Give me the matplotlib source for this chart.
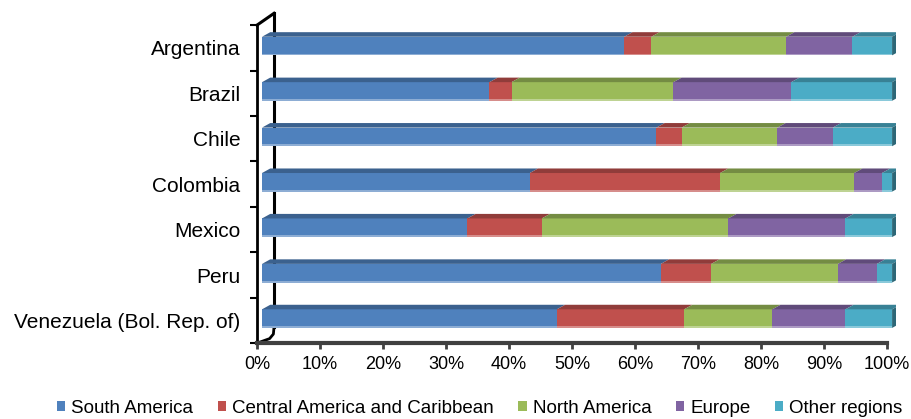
import matplotlib
matplotlib.use("Agg")
import matplotlib.pyplot as plt
from matplotlib.patches import Polygon, Patch
from matplotlib.colors import to_rgb
import numpy as np

plt.rcParams['font.family'] = ['Liberation Sans', 'DejaVu Sans']

# shares of exports by destination (%)
countries = ["Argentina", "Brazil", "Chile", "Colombia", "Mexico", "Peru",
             "Venezuela (Bol. Rep. of)"]
regions = ["South America", "Central America and Caribbean", "North America",
           "Europe", "Other regions"]
south_america = [57.5, 36.1, 62.6, 42.5, 32.6, 63.3, 46.8]
central_america = [4.3, 3.5, 4.0, 30.2, 11.8, 8.0, 20.2]
north_america = [21.4, 25.7, 15.2, 21.3, 29.6, 20.1, 14.0]
europe = [10.5, 18.7, 8.8, 4.4, 18.6, 6.2, 11.6]
other_regions = [6.3, 16.0, 9.4, 1.6, 7.4, 2.4, 7.4]
colors = ["#4F81BD", "#C0504D", "#9BBB59", "#8064A2", "#4BACC6"]
xticks = [0, 10, 20, 30, 40, 50, 60, 70, 80, 90, 100]


def shade(c, f):
    r, g, b = to_rgb(c)
    return (r * f, g * f, b * f)


def tint(c, f):
    r, g, b = to_rgb(c)
    return (r + (1 - r) * f, g + (1 - g) * f, b + (1 - b) * f)


fig = plt.figure(figsize=(9.12, 4.19), dpi=100)
ax = fig.add_axes([0.2818, 0.181, 0.7012, 0.759])

series = [south_america, central_america, north_america, europe, other_regions]
ypos = np.arange(len(countries))[::-1] + 0.09
h = 0.51      # bar thickness
t = 0.1       # depth of the top face
dx = 1.3      # sideways shift of the top face
front = 0.8   # front faces sit a little in front of the axis plane

left = np.zeros(len(countries)) + front
for vals, col in zip(series, colors):
    vals = np.array(vals)
    ax.barh(ypos - t / 2, vals, height=h - t, left=left, color=col,
            edgecolor="none", zorder=3)
    # lighter bottom rim
    ax.barh(ypos - h / 2 + 0.02, vals, height=0.04, left=left,
            color=tint(col, 0.35), edgecolor="none", zorder=4)
    for y, l, w in zip(ypos, left, vals):
        yf = y + h / 2 - t
        top = Polygon([(l, yf), (l + w, yf), (l + w + dx, yf + t), (l + dx, yf + t)],
                      closed=True, facecolor=shade(col, 0.75), edgecolor="none",
                      zorder=3)
        ax.add_patch(top)
    left = left + vals

# right end caps
for y, r in zip(ypos, left):
    y0 = y - h / 2
    yf = y + h / 2 - t
    cap = Polygon([(r, y0), (r, yf), (r + dx, yf + t), (r + dx, y0 + t)],
                  closed=True, facecolor=shade(colors[-1], 0.6), edgecolor="none",
                  zorder=3)
    ax.add_patch(cap)

ax.set_xlim(0, 101.5)
ax.set_ylim(-0.5, 6.5)

# back wall edge with the slanted top and rounded foot
ax.plot([2.7, 2.7], [-0.15, 6.76], color="black", lw=2.2, zorder=1, clip_on=False)
ax.plot([0, 2.7], [6.5, 6.76], color="black", lw=2.2, zorder=1, clip_on=False)
ax.plot([2.7, 2.6, 2.0, 0.0], [-0.15, -0.3, -0.4, -0.5], color="black", lw=2,
        zorder=1, clip_on=False)

ax.set_xticks(xticks)
ax.set_xticklabels([f"{v}%" for v in xticks], fontsize=13)
ax.set_yticks(np.arange(len(countries))[::-1])
ax.set_yticklabels(countries, fontsize=15)
ax.tick_params(axis="y", length=0, pad=12)
ax.set_yticks(np.arange(-0.5, 6.6, 1.0), minor=True)
ax.tick_params(axis="y", which="minor", length=5, width=1.5, color="black",
               direction="out")
ax.tick_params(axis="x", length=4, width=2, color="#404040", pad=5)

for s in ["top", "right"]:
    ax.spines[s].set_visible(False)
ax.spines["left"].set_linewidth(2)
ax.spines["left"].set_color("black")
ax.spines["bottom"].set_linewidth(3)
ax.spines["bottom"].set_color("#404040")
ax.spines["bottom"].set_bounds(0, 100)

handles = [Patch(facecolor=c, edgecolor="none") for c in colors]
fig.legend(handles, regions, loc="lower center", ncol=5, frameon=False,
           fontsize=13.5, handlelength=0.45, handleheight=0.45,
           handletextpad=0.32, columnspacing=1.3,
           bbox_to_anchor=(0.526, -0.035))

fig.savefig("out.png", dpi=100)
